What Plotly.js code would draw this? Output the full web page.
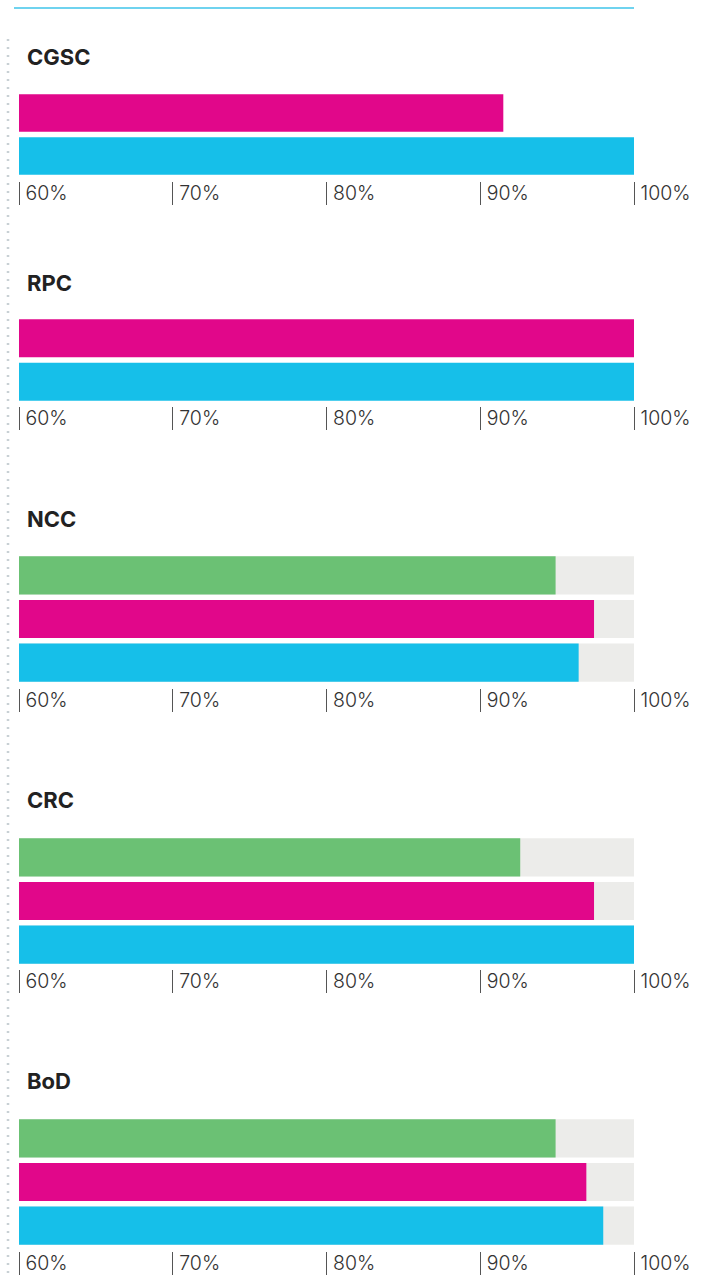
<!DOCTYPE html>
<html><head><meta charset="utf-8">
<script src="https://cdn.plot.ly/plotly-3.0.1.min.js"></script>
<style>html,body{margin:0;padding:0;background:#fff}#chart{width:712px;height:1275px}</style>
</head><body><div id="chart"></div>
<script>
// ---- data ----
const panels = ['CGSC', 'RPC', 'NCC', 'CRC', 'BoD'];
const greenValues   = [null, null, 94.9, 92.6, 94.9];
const magentaValues = [91.5, 100, 97.4, 97.4, 96.9];
const cyanValues    = [100, 100, 96.4, 100, 98.0];
const showTrack     = [false, false, true, true, true];
const trackMax = 100;
const tickValues = [60, 70, 80, 90, 100];
const tickLabels = ['60%', '70%', '80%', '90%', '100%'];

// ---- layout geometry (pixels) ----
const H = 1275, W = 712;
const py = p => 1 - p / H;
const panelGeom = [
  {title: 57,   top: 91.5,  bot: 177.5, axis: 181},
  {title: 283,  top: 316.5, bot: 403.5, axis: 406},
  {title: 519,  top: 553.5, bot: 684.5, axis: 688},
  {title: 800,  top: 835.5, bot: 966.5, axis: 969},
  {title: 1081, top: 1116.5, bot: 1247.5, axis: 1251}
];
const colors = {green: '#6bc174', magenta: '#e1078a', cyan: '#16bfe9', track: '#ececea'};
const FONT = 'Inter, "Liberation Sans", Arial, sans-serif';

const traces = [];
const layout = {
  width: W, height: H,
  margin: {l: 19, r: 78, t: 0, b: 0},
  paper_bgcolor: '#fff', plot_bgcolor: 'rgba(0,0,0,0)',
  showlegend: false, barmode: 'overlay', bargap: 0.126,
  annotations: [], shapes: []
};

panels.forEach((name, i) => {
  const s = i === 0 ? '' : String(i + 1);
  const xa = 'x' + s, ya = 'y' + s;
  const g = panelGeom[i];
  const cats = [];
  const vals = [];
  const cols = [];
  if (greenValues[i] !== null) { cats.push('green'); vals.push(greenValues[i]); cols.push(colors.green); }
  cats.push('magenta'); vals.push(magentaValues[i]); cols.push(colors.magenta);
  cats.push('cyan'); vals.push(cyanValues[i]); cols.push(colors.cyan);
  if (showTrack[i]) {
    traces.push({type: 'bar', orientation: 'h', x: cats.map(() => trackMax), y: cats,
      xaxis: xa, yaxis: ya, marker: {color: colors.track}, hoverinfo: 'skip'});
  }
  traces.push({type: 'bar', orientation: 'h', x: vals, y: cats,
    xaxis: xa, yaxis: ya, marker: {color: cols}, hoverinfo: 'skip'});

  layout['xaxis' + s] = {
    domain: [0, 1], range: [60, 100], anchor: 'free', position: py(g.axis),
    showgrid: false, zeroline: false, showline: false, fixedrange: true,
    ticks: 'outside', ticklen: 23, tickcolor: '#555', tickwidth: 1,
    tickmode: 'array', tickvals: tickValues, ticktext: tickLabels,
    ticklabelposition: 'outside right', ticklabelstandoff: -5, ticklabelshift: 6,
    tickfont: {family: FONT, size: 19.5, color: '#333', weight: 300}
  };
  layout['yaxis' + s] = {
    domain: [py(g.bot), py(g.top)], anchor: xa, type: 'category',
    categoryorder: 'array', categoryarray: cats.slice().reverse(),
    showgrid: false, zeroline: false, showline: false, showticklabels: false, ticks: '', fixedrange: true
  };
  layout.annotations.push({
    text: '<b>' + name + '</b>', xref: 'paper', yref: 'paper', x: 6 / 615, y: py(g.title),
    xanchor: 'left', yanchor: 'middle', showarrow: false,
    font: {family: FONT, size: 22, color: '#222'}
  });
});

layout.shapes.push({type: 'line', xref: 'paper', yref: 'paper', x0: -5 / 615, x1: 1, y0: py(8), y1: py(8),
  line: {color: '#6fd3ef', width: 2}});
layout.shapes.push({type: 'line', xref: 'paper', yref: 'paper', x0: -11 / 615, x1: -11 / 615, y0: py(39), y1: 0,
  line: {color: '#c8d0d4', width: 2.5, dash: '2px,6px'}});

Plotly.newPlot('chart', traces, layout, {staticPlot: true, displayModeBar: false});
</script></body></html>
